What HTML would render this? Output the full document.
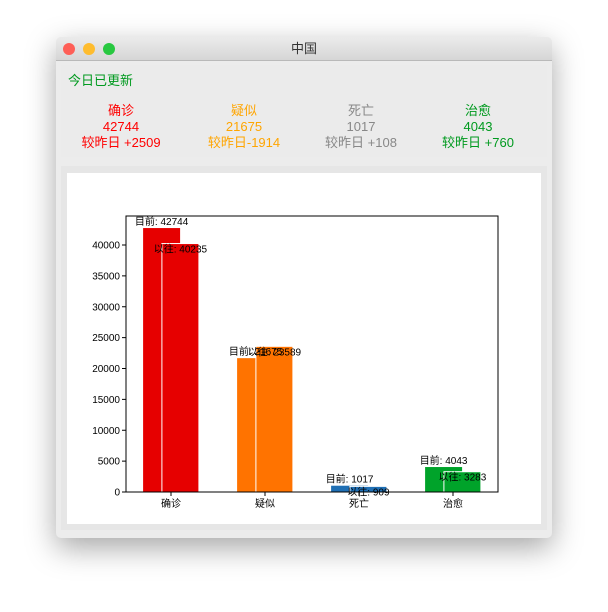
<!DOCTYPE html>
<html><head><meta charset="utf-8"><style>
body{margin:0;width:608px;height:612px;background:#fff;position:relative;overflow:hidden;font-family:"Liberation Sans","Noto Sans CJK SC",sans-serif}
.win{position:absolute;left:56px;top:37px;width:496px;height:501px;background:#ececec;border-radius:5px;box-shadow:0 10px 30px rgba(0,0,0,.35);overflow:hidden}
.tb{height:23px;background:linear-gradient(#ebebeb,#d6d6d6);border-bottom:1px solid #b9b9b9;text-align:center;font-size:13px;line-height:23px;color:#333}
.dot{position:absolute;top:6px;width:12px;height:12px;border-radius:50%}
.top{position:absolute;left:5px;top:28px;width:486px;height:92px;background:#ebebeb}
.col{position:absolute;top:38px;width:120px;text-align:center;font-size:13px;line-height:16px}
.chart{position:absolute;left:5px;top:129px;width:486px;height:364px;background:#e6e6e6}
</style></head><body>
<div class="win">
<div class="tb">中国</div>
<div class="dot" style="left:7px;background:#fe5f57"></div>
<div class="dot" style="left:27px;background:#febc2e"></div>
<div class="dot" style="left:47px;background:#28c840"></div>
<div class="top">
<div style="position:absolute;left:7px;top:5px;color:#009a1f;font-size:13px">今日已更新</div>
<div class="col" style="left:0px;color:#f00">确诊<br>42744<br>较昨日 +2509</div>
<div class="col" style="left:123px;color:#ffa500">疑似<br>21675<br>较昨日-1914</div>
<div class="col" style="left:240px;color:#888">死亡<br>1017<br>较昨日 +108</div>
<div class="col" style="left:357px;color:#009a1f">治愈<br>4043<br>较昨日 +760</div>
</div>
<div class="chart">
<svg width="486" height="364" style="position:absolute;left:0;top:0" id="svg">
<rect x="6" y="7" width="474" height="351" fill="#fff"/>
</svg></div></div>
<script>
const categories=["确诊","疑似","死亡","治愈"];
const currentValues=[42744,21675,1017,4043];
const pastValues=[40235,23589,909,3283];
const colors=["#e60000","#ff7300","#1f6fb4","#00a32a"];
const yTicks=[0,5000,10000,15000,20000,25000,30000,35000,40000];
const svg=document.getElementById('svg');
const NS='http://www.w3.org/2000/svg';
const OX=61,OY=166;
const L=126-OX,R=498-OX,T=216-OY,B=492-OY;
const y=v=>B-v*247/40000;
const step=94,x0=171-OX;
const x=i=>x0+i*step;
function el(t,a,txt){const e=document.createElementNS(NS,t);for(const k in a)e.setAttribute(k,a[k]);if(txt!=null)e.textContent=txt;svg.appendChild(e);return e;}
const bw=37;
categories.forEach((c,i)=>{
 let r=el('rect',{x:x(i)-9.4-bw/2,y:y(currentValues[i]),width:bw,height:B-y(currentValues[i]),fill:colors[i]});
 
 
 let r2=el('rect',{x:x(i)+9.4-bw/2,y:y(pastValues[i]),width:bw,height:B-y(pastValues[i]),fill:colors[i],stroke:'#fff','stroke-width':1});
 
 
 let t1=el('text',{x:x(i)-9.4,y:y(currentValues[i])-3,'text-anchor':'middle','font-size':10,fill:'#000'},'目前: '+currentValues[i]);
 
 
 let t2=el('text',{x:x(i)+9.4,y:y(pastValues[i])+9,'text-anchor':'middle','font-size':10,fill:'#000'},'以往: '+pastValues[i]);
 
 
 el('line',{x1:x(i),x2:x(i),y1:B,y2:B+4,stroke:'#000'});
 let xl=el('text',{x:x(i),y:B+15,'text-anchor':'middle','font-size':10},c);
 
 
});
yTicks.forEach(v=>{
 el('line',{x1:L-4,x2:L,y1:y(v),y2:y(v),stroke:'#000'});
 let t=el('text',{x:L-6,y:y(v)+3.5,'text-anchor':'end','font-size':10},v);
 
 
});
el('rect',{x:L,y:T,width:R-L,height:B-T,fill:'none',stroke:'#000','stroke-width':1});
</script>
</body></html>
